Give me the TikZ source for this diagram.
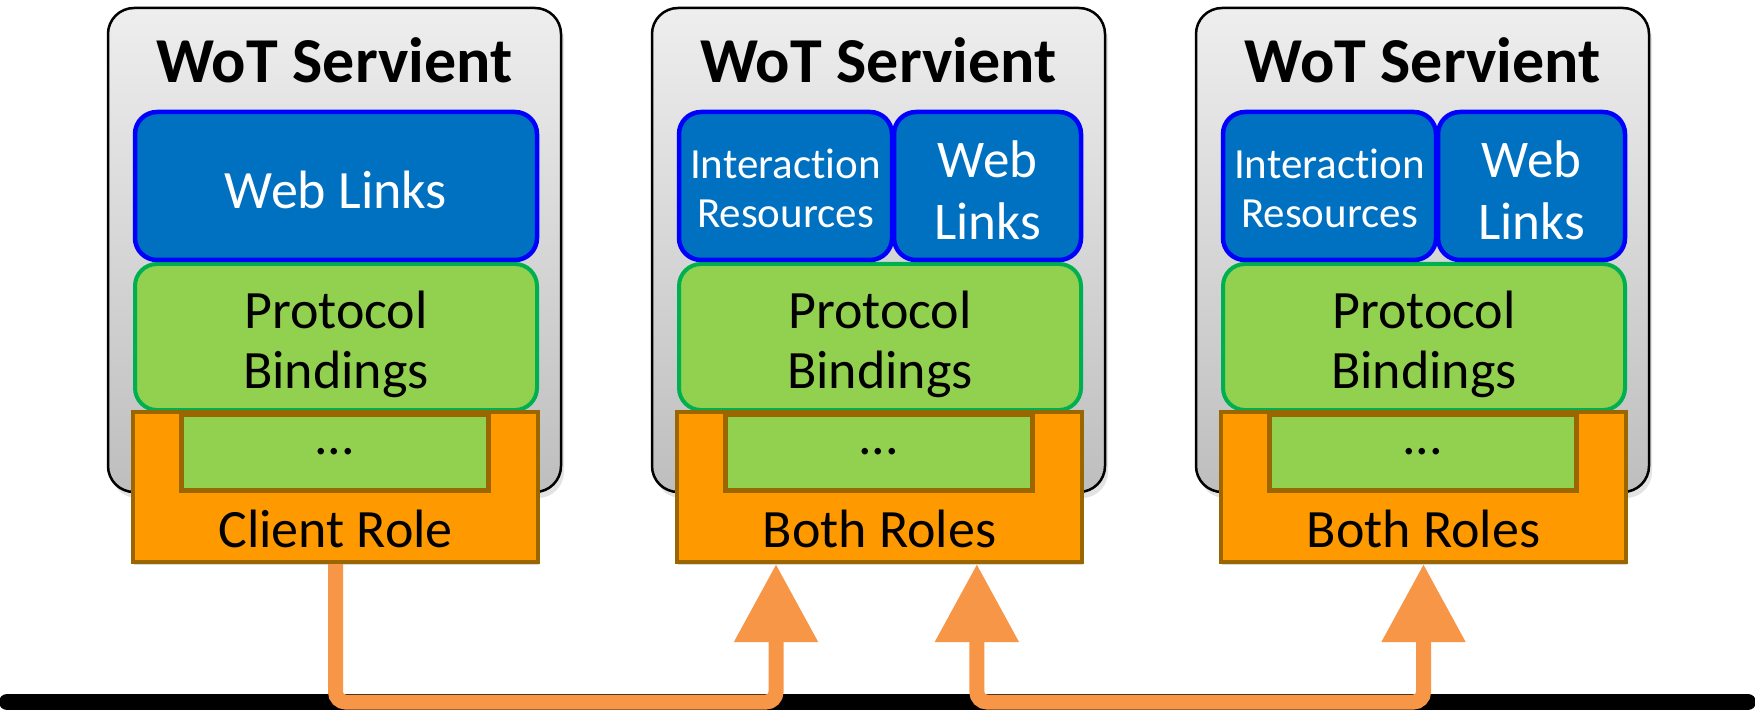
\documentclass[tikz,border=0pt]{standalone}
\usepackage{fontspec}
\setmainfont{Carlito}[Ligatures=NoCommon]
\usetikzlibrary{arrows.meta,shadows,calc}

\definecolor{panelTop}{RGB}{238,238,238}
\definecolor{panelBot}{RGB}{190,190,190}
\definecolor{linkFill}{RGB}{0,112,192}
\definecolor{linkLine}{RGB}{0,0,255}
\definecolor{bindFill}{RGB}{146,208,80}
\definecolor{bindLine}{RGB}{0,176,80}
\definecolor{roleFill}{RGB}{255,153,0}
\definecolor{roleLine}{RGB}{153,102,0}
\definecolor{wireCol}{RGB}{247,150,70}

\begin{document}
\begin{tikzpicture}[x=1pt,y=-1pt,
  servient/.style={draw=black, line width=2.5pt, rounded corners=26pt,
    top color=panelTop, bottom color=panelBot,
    minimum width=453pt, minimum height=484pt, inner sep=0pt,
    drop shadow={opacity=0.22, shadow xshift=3pt, shadow yshift=-6pt}},
  title/.style={font=\fontsize{64}{70}\selectfont\bfseries, inner sep=0pt},
  linkbox/.style={draw=linkLine, fill=linkFill, line width=4.5pt, rounded corners=22pt,
    inner sep=0pt, minimum height=148pt},
  linktext/.style={text=white, align=center, inner sep=0pt,
    font=\fontsize{54}{60}\selectfont},
  smalltext/.style={text=white, align=center, inner sep=0pt,
    font=\fontsize{43}{49}\selectfont},
  pairtext/.style={text=white, align=center, inner sep=0pt,
    font=\fontsize{53}{62}\selectfont},
  bindbox/.style={draw=bindLine, fill=bindFill, line width=4pt, rounded corners=22pt,
    inner sep=0pt, minimum width=402pt, minimum height=146pt},
  bindtext/.style={align=center, inner sep=0pt, font=\fontsize{54}{60}\selectfont},
  rolebox/.style={draw=roleLine, fill=roleFill, line width=4pt, inner sep=0pt,
    minimum width=405pt, minimum height=150pt,
    drop shadow={opacity=0.3, shadow xshift=1pt, shadow yshift=-3pt}},
  slotbox/.style={draw=roleLine, fill=bindFill, line width=5pt, inner sep=0pt,
    minimum width=307pt, minimum height=76pt},
  label/.style={font=\fontsize{54}{60}\selectfont, inner sep=0pt},
  busline/.style={draw=black, line width=16pt, line cap=round},
  wire/.style={draw=wireCol, line width=15pt, rounded corners=10pt,
    >={Triangle[length=78pt, width=80pt]}}
]
\useasboundingbox (0,0) rectangle (1755,711);

% the three servients with their protocol bindings and role blocks
\foreach \i/\ox/\role in {1/108/Client Role, 2/652/Both Roles, 3/1196/Both Roles} {
  \node[servient] (s\i) at ({\ox+226.5},250) {};
  \node[title] (t\i) at ({\ox+226.5},60.5) {WoT Servient};
  \node[bindbox] (p\i) at ({\ox+228},337) {};
  \node[bindtext] (pt\i) at ({\ox+228},344) {Protocol\\Bindings};
  \node[rolebox] (r\i) at ({\ox+227.5},487) {};
  \node[slotbox] (q\i) at ({\ox+226.5},452) {};
  \node[label] (d\i) at ({\ox+226.5},452) {...};
  \node[label] (l\i) at ({\ox+227.5},529) {\role};
}

% resource layers
\node[linkbox, minimum width=402pt] (w1) at (336,186) {};
\node[linktext] (wt1) at (336,189.5) {Web Links};
\foreach \i/\ox in {2/652, 3/1196} {
  \node[linkbox, minimum width=213pt] (i\i) at ({\ox+133.5},186) {};
  \node[smalltext] (it\i) at ({\ox+133.5},188.5) {Interaction\\Resources};
  \node[linkbox, minimum width=187pt] (w\i) at ({\ox+335.5},186) {};
  \node[pairtext] (wt\i) at ({\ox+335.5},190.5) {Web\\Links};
}

% network bus
\coordinate (busL) at (7,702);
\coordinate (busR) at (1748,702);
\draw[busline] (busL) -- (busR);

% connections between the servients
\coordinate (a1) at ($(r2.south west)!0.247!(r2.south east)$);
\coordinate (a2) at ($(r2.south west)!0.738!(r2.south east)$);
\coordinate (a3) at (r3.south);
\draw[wire, ->] (r1.south) -- (r1.south |- busL) -- (a1 |- busL) -- (a1);
\draw[wire, <->] (a2) -- (a2 |- busL) -- (a3 |- busL) -- (a3);
\end{tikzpicture}
\end{document}
